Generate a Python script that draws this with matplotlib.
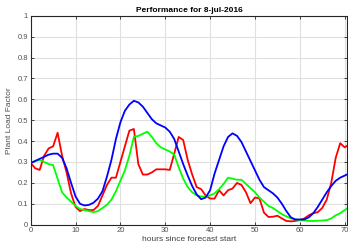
import matplotlib
matplotlib.use("Agg")
import matplotlib.pyplot as plt
import numpy as np

plt.rcParams['font.family'] = ['Liberation Sans', 'DejaVu Sans']

hours = list(range(72))

red = [0.295, 0.27, 0.262, 0.33, 0.365, 0.375, 0.44, 0.33, 0.25, 0.15,
       0.085, 0.065, 0.075, 0.07, 0.07, 0.09, 0.14, 0.19, 0.225, 0.225,
       0.30, 0.375, 0.45, 0.458, 0.29, 0.24, 0.24, 0.25, 0.265, 0.265,
       0.265, 0.262, 0.34, 0.42, 0.405, 0.31, 0.24, 0.18, 0.17, 0.14,
       0.125, 0.125, 0.165, 0.14, 0.165, 0.173, 0.2, 0.19, 0.155, 0.103,
       0.13, 0.126, 0.058, 0.037, 0.038, 0.043, 0.03, 0.018, 0.016, 0.018,
       0.022, 0.03, 0.045, 0.055, 0.06, 0.08, 0.12, 0.2, 0.32, 0.39,
       0.37, 0.385]

green = [0.295, 0.305, 0.31, 0.30, 0.29, 0.285, 0.22, 0.155, 0.13, 0.11,
         0.09, 0.075, 0.07, 0.065, 0.06, 0.065, 0.08, 0.095, 0.12, 0.16,
         0.21, 0.26, 0.33, 0.42, 0.425, 0.435, 0.445, 0.42, 0.39, 0.37,
         0.36, 0.35, 0.335, 0.275, 0.22, 0.18, 0.155, 0.14, 0.135, 0.135,
         0.14, 0.15, 0.17, 0.195, 0.225, 0.22, 0.215, 0.215, 0.195, 0.175,
         0.155, 0.13, 0.11, 0.09, 0.08, 0.065, 0.05, 0.04, 0.03, 0.025,
         0.022, 0.02, 0.018, 0.018, 0.019, 0.02, 0.022, 0.03, 0.045, 0.055,
         0.07, 0.085]

blue = [0.295, 0.305, 0.315, 0.325, 0.335, 0.34, 0.34, 0.32, 0.27, 0.2,
        0.135, 0.1, 0.092, 0.095, 0.105, 0.125, 0.16, 0.23, 0.31, 0.41,
        0.49, 0.545, 0.575, 0.593, 0.585, 0.565, 0.535, 0.505, 0.485, 0.475,
        0.465, 0.445, 0.41, 0.35, 0.29, 0.235, 0.185, 0.145, 0.122, 0.13,
        0.165, 0.245, 0.31, 0.375, 0.42, 0.437, 0.425, 0.395, 0.35, 0.305,
        0.26, 0.215, 0.18, 0.165, 0.15, 0.13, 0.1, 0.065, 0.035, 0.025,
        0.025, 0.025, 0.035, 0.055, 0.085, 0.12, 0.155, 0.185, 0.21, 0.225,
        0.235, 0.245]

xticks = [0, 10, 20, 30, 40, 50, 60, 70]
yticks = [0, 0.1, 0.2, 0.3, 0.4, 0.5, 0.6, 0.7, 0.8, 0.9, 1]
yticklabels = ['0', '0.1', '0.2', '0.3', '0.4', '0.5', '0.6', '0.7', '0.8', '0.9', '1']

fig = plt.figure(figsize=(3.48, 2.42), dpi=100)
ax = fig.add_axes([0.0882, 0.0715, 0.910, 0.8636])

ax.plot(hours, red, color=(1, 0, 0), lw=1.3)
ax.plot(hours, green, color=(0, 1, 0), lw=1.3)
ax.plot(hours, blue, color=(0, 0, 1), lw=1.3)

ax.set_xlim(0, 70.6)
ax.set_ylim(0, 1)
ax.set_xticks(xticks)
ax.set_yticks(yticks)
ax.set_yticklabels(yticklabels)
ax.grid(True, color='#e0e0e0', lw=0.8)
ax.set_axisbelow(True)
ax.tick_params(direction='in', length=2.5, width=0.6, labelsize=5.5,
               color='#262626', labelcolor='#505050', top=True, right=True, pad=2)
for s in ax.spines.values():
    s.set_color('#262626')
    s.set_linewidth(0.8)

ax.set_xlabel('hours since forecast start', fontsize=6, color='#404040', labelpad=1)
ax.set_ylabel('Plant Load Factor', fontsize=6, color='#505050', labelpad=3)
ax.set_title('Performance for 8-jul-2016', fontsize=6, fontweight='bold', pad=3)

fig.savefig('out.png', dpi=100)
